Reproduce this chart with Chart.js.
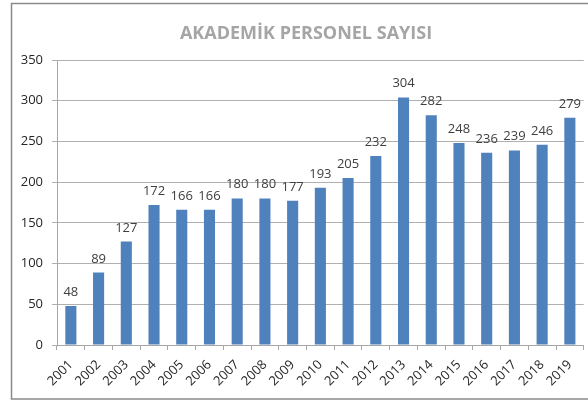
<!DOCTYPE html>
<html>
<head>
<meta charset="utf-8">
<script src="https://cdn.jsdelivr.net/npm/chart.js@4"></script>
<style>
  html, body { margin: 0; padding: 0; background: #ffffff; }
  #wrap { width: 588px; height: 401px; position: relative; }
</style>
</head>
<body>
<div id="wrap"><canvas id="c" width="588" height="401"></canvas></div>
<script>
const titleText = "AKADEMİK PERSONEL SAYISI";
const categories = ["2001","2002","2003","2004","2005","2006","2007","2008","2009","2010","2011","2012","2013","2014","2015","2016","2017","2018","2019"];
const values = [48, 89, 127, 172, 166, 166, 180, 180, 177, 193, 205, 232, 304, 282, 248, 236, 239, 246, 279];
const yTicks = [0, 50, 100, 150, 200, 250, 300, 350];

const FONT = "'Open Sans', 'Liberation Sans', sans-serif";

const framePlugin = {
  id: 'frame',
  beforeDraw(chart) {
    const ctx = chart.ctx;
    ctx.save();
    ctx.fillStyle = '#ffffff';
    ctx.fillRect(0, 0, chart.width, chart.height);
    ctx.strokeStyle = '#8a8a8a';
    ctx.lineWidth = 1.5;
    ctx.strokeRect(11.5, 3.5, 620, 395.5);
    ctx.restore();
  },
  afterDraw(chart) {
    const ctx = chart.ctx;
    ctx.save();
    ctx.font = "bold 18px " + FONT;
    ctx.fillStyle = '#a5a5a5';
    ctx.textAlign = 'center';
    ctx.textBaseline = 'middle';
    ctx.fillText(titleText, 306, 34);
    ctx.restore();
  }
};

const labelPlugin = {
  id: 'barLabels',
  afterDatasetsDraw(chart) {
    const ctx = chart.ctx;
    const meta = chart.getDatasetMeta(0);
    ctx.save();
    ctx.font = "13px " + FONT;
    ctx.fillStyle = '#404040';
    ctx.textAlign = 'center';
    ctx.textBaseline = 'alphabetic';
    meta.data.forEach((bar, i) => {
      ctx.fillText(String(values[i]), bar.x, bar.y - 10);
    });
    ctx.restore();
  }
};

new Chart(document.getElementById('c'), {
  type: 'bar',
  data: {
    labels: categories,
    datasets: [{
      data: values,
      backgroundColor: '#4f81bd',
      borderWidth: 0,
      barPercentage: 0.4,
      categoryPercentage: 1.0
    }]
  },
  options: {
    responsive: false,
    animation: false,
    devicePixelRatio: 1,
    layout: { padding: { top: 60, right: 4, bottom: 0, left: 0 } },
    plugins: {
      legend: { display: false },
      title: { display: false },
      tooltip: { enabled: false }
    },
    scales: {
      x: {
        offset: true,
        grid: { display: true, offset: true, drawOnChartArea: false, drawTicks: true, tickLength: 5, color: '#a6a6a6' },
        border: { display: true, color: '#a6a6a6' },
        ticks: {
          autoSkip: false, maxRotation: 45, minRotation: 45, padding: 7,
          color: '#262626', font: { family: FONT, size: 13 }
        },
        afterFit(scale) { scale.height = 56; }
      },
      y: {
        min: 0, max: 350,
        afterBuildTicks(scale) { scale.ticks = yTicks.map(v => ({ value: v })); },
        grid: { color: '#b0b0b0', drawTicks: true, tickLength: 5 },
        border: { display: true, color: '#a6a6a6' },
        ticks: { padding: 9, color: '#262626', font: { family: FONT, size: 13 } },
        afterFit(scale) { scale.width = 57; }
      }
    }
  },
  plugins: [framePlugin, labelPlugin]
});
</script>
</body>
</html>
